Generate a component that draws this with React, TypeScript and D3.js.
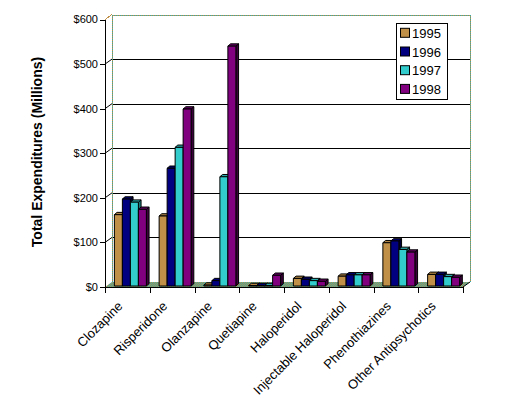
import React from "react";
import * as d3 from "d3";

const categories = [
  "Clozapine",
  "Risperidone",
  "Olanzapine",
  "Quetiapine",
  "Haloperidol",
  "Injectable Haloperidol",
  "Phenothiazines",
  "Other Antipsychotics",
];
const years = ["1995", "1996", "1997", "1998"];
const v1995 = [160, 157, 2, 1, 17, 22, 97, 26];
const v1996 = [195, 264, 12, 1, 15, 25, 101, 26];
const v1997 = [188, 311, 245, 1, 12, 25, 82, 21];
const v1998 = [172, 397, 538, 24, 10.5, 25, 76, 19.5];
const seriesValues = [v1995, v1996, v1997, v1998];
const yTicks = [0, 100, 200, 300, 400, 500, 600];
const yTickLabels = ["$0", "$100", "$200", "$300", "$400", "$500", "$600"];

const frontColors = ["#c09048", "#000080", "#33cccc", "#800080"];
const topColors = ["#b08444", "#000070", "#2aaaaa", "#660066"];
const sideColors = ["#6e5028", "#000038", "#1a7a7a", "#3c003c"];

const W = 520;
const H = 405;
const X0 = 105;
const X1 = 463;
const DX = 7; // wall depth offset
const DY = 5;
const BDX = 2.7; // bar depth
const BDY = 2.3;

const px = (v: number) => Math.round(v) + 0.5;

export default function App() {
  const x = d3.scaleBand<string>().domain(categories).range([X0, X1]);
  const yFront = d3.scaleLinear().domain([0, 600]).range([287, 19.5]);
  const yBar = (v: number) => yFront(v) - 1;
  const groupW = 32;
  const xs = d3.scaleBand<string>().domain(years).range([0, groupW]);
  const baseY = yBar(0);
  const yBack = (v: number) => yFront(v) - DY;

  const bars: React.ReactNode[] = [];
  categories.forEach((c, ci) => {
    const gx = (x(c) as number) + (x.bandwidth() - groupW) / 2 + 3;
    years.forEach((yr, si) => {
      const v = seriesValues[si][ci];
      const bx = gx + (xs(yr) as number);
      const bw = xs.bandwidth();
      const ty = yBar(v);
      bars.push(
        <g key={c + yr} stroke="#000" strokeWidth={1} strokeLinejoin="round">
          <polygon
            points={`${bx + bw},${ty} ${bx + bw + BDX},${ty - BDY} ${bx + bw + BDX},${baseY - BDY} ${bx + bw},${baseY}`}
            fill={sideColors[si]}
          />
          <polygon
            points={`${bx},${ty} ${bx + BDX},${ty - BDY} ${bx + bw + BDX},${ty - BDY} ${bx + bw},${ty}`}
            fill={topColors[si]}
          />
          <rect x={bx} y={ty} width={bw} height={baseY - ty} fill={frontColors[si]} />
        </g>
      );
    });
  });

  return (
    <svg
      width={W}
      height={H}
      style={{ position: "absolute", left: 0, top: 0, background: "#fff" }}
      fontFamily="Arial, 'Liberation Sans', sans-serif"
    >
      <defs>
        <pattern id="floorPat" width="2" height="2" patternUnits="userSpaceOnUse">
          <rect width="2" height="2" fill="#33aaaa" />
          <rect width="1" height="1" fill="#c09048" />
          <rect x="1" y="1" width="1" height="1" fill="#c09048" />
        </pattern>
      </defs>

      {/* back wall gridlines */}
      {yTicks
        .filter((t) => t > 0 && t < 600)
        .map((t) => (
          <g key={"g" + t} stroke="#000" strokeWidth={1}>
            <line
              x1={X0 + DX}
              x2={X1 + DX}
              y1={px(yBack(t))}
              y2={px(yBack(t))}
              shapeRendering="crispEdges"
            />
            <line x1={X0} y1={yFront(t)} x2={X0 + DX} y2={yBack(t)} />
          </g>
        ))}

      {/* wall edges (dithered) */}
      <g fill="none" stroke="url(#floorPat)" strokeWidth={1} shapeRendering="crispEdges">
        <line x1={X0} y1={yFront(600)} x2={X0 + DX} y2={yBack(600)} stroke="#c09048" />
        <polyline
          points={`${X0 + DX},${px(yBack(600))} ${px(X1 + DX)},${px(yBack(600))} ${px(X1 + DX)},${yBack(0)}`}
        />
        <line x1={px(X0 + DX)} y1={yBack(600)} x2={px(X0 + DX)} y2={yBack(0)} />
      </g>

      {/* floor */}
      <polygon
        points={`${X0},${yFront(0)} ${X1},${yFront(0)} ${X1 + DX},${yBack(0)} ${X0 + DX},${yBack(0)}`}
        fill="url(#floorPat)"
      />

      {bars}

      {/* y axis */}
      <line
        x1={px(X0)}
        x2={px(X0)}
        y1={yFront(600)}
        y2={yFront(0)}
        stroke="#000"
        strokeWidth={1}
        shapeRendering="crispEdges"
      />
      {yTicks.map((t, i) => (
        <g key={"t" + t}>
          <line
            x1={X0 - 5}
            x2={X0}
            y1={px(yFront(t))}
            y2={px(yFront(t))}
            stroke="#000"
            strokeWidth={1}
            shapeRendering="crispEdges"
          />
          <text x={X0 - 7} y={yFront(t)} dy="0.35em" textAnchor="end" fontSize={11}>
            {yTickLabels[i]}
          </text>
        </g>
      ))}

      {/* x axis */}
      <line
        x1={X0}
        x2={X1}
        y1={px(yFront(0))}
        y2={px(yFront(0))}
        stroke="#000"
        strokeWidth={1}
        shapeRendering="crispEdges"
      />
      <line x1={X1} y1={yFront(0)} x2={X1 + DX} y2={yBack(0)} stroke="#000" strokeWidth={1} />
      {[...categories.map((c) => x(c) as number), X1].map((tx, i) => (
        <line
          key={"xt" + i}
          x1={px(tx)}
          x2={px(tx)}
          y1={yFront(0)}
          y2={yFront(0) + 6}
          stroke="#000"
          strokeWidth={1}
          shapeRendering="crispEdges"
        />
      ))}
      {categories.map((c) => {
        const cx = (x(c) as number) + x.bandwidth() / 2;
        return (
          <text
            key={"lab" + c}
            transform={`translate(${cx - 4},${307}) rotate(-45)`}
            textAnchor="end"
            fontSize={13}
          >
            {c}
          </text>
        );
      })}

      {/* y title */}
      <text
        transform={`translate(${37},${152}) rotate(-90)`}
        textAnchor="middle"
        dominantBaseline="central"
        fontSize={14}
        fontWeight="bold"
      >
        Total Expenditures (Millions)
      </text>

      {/* legend */}
      <rect x={396.5} y={23.5} width={51} height={76} fill="#fff" stroke="#000" strokeWidth={1} />
      {years.map((yr, i) => {
        const cy = 33.3 + i * 18.7;
        return (
          <g key={"leg" + yr}>
            <rect x={400.5} y={cy - 5} width={9} height={9} fill={frontColors[i]} stroke="#000" strokeWidth={1} />
            <text x={412} y={cy} dy="0.36em" fontSize={13}>
              {yr}
            </text>
          </g>
        );
      })}
    </svg>
  );
}
